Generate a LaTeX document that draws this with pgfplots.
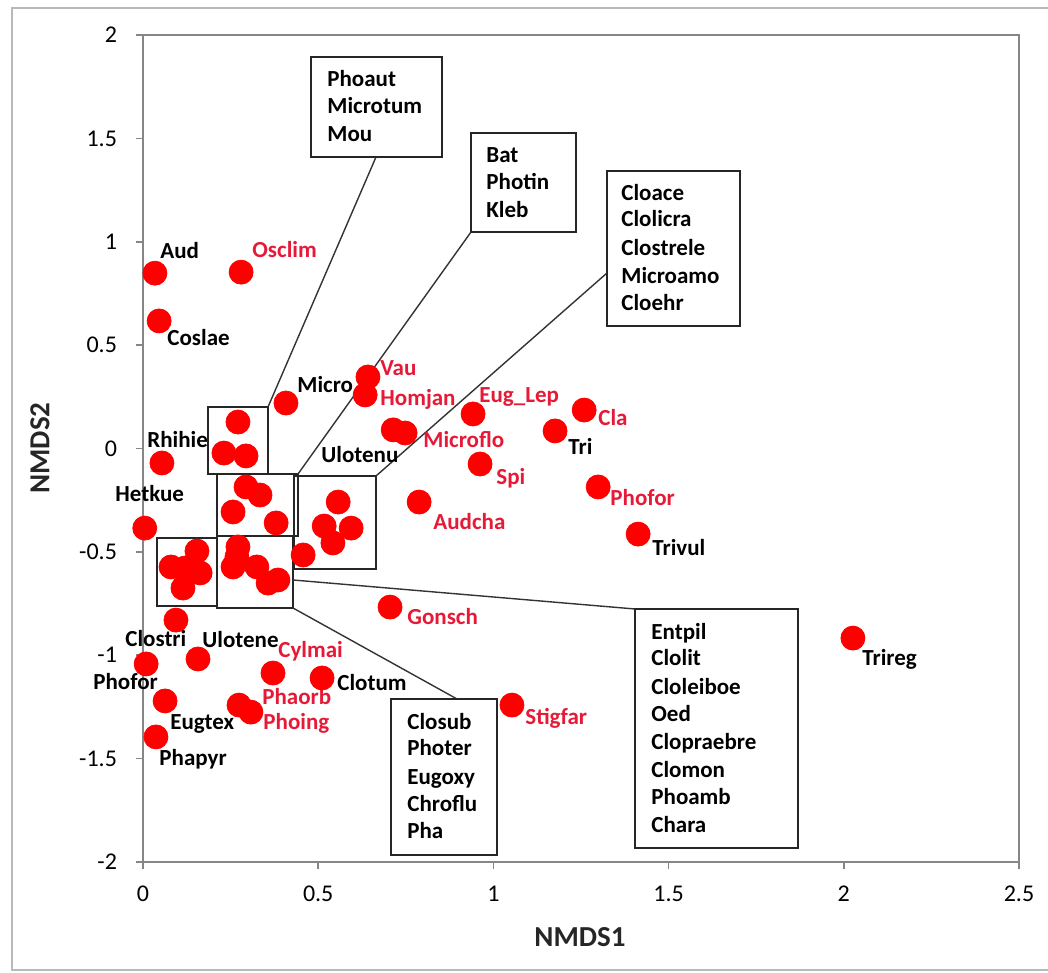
\documentclass[border=0pt]{standalone}
\usepackage{fontspec}
\setmainfont{Carlito}
\usepackage{pgfplots}
\pgfplotsset{compat=1.18}
\definecolor{lbred}{RGB}{230,25,55}
\definecolor{dotred}{RGB}{255,0,0}
\definecolor{axgray}{RGB}{134,134,134}
\tikzset{
  lbl/.style={font=\fontsize{11.5}{13.8}\selectfont\bfseries, inner sep=0pt, text height=7.6pt, text depth=0pt, anchor=west},
  rl/.style={lbl, text=lbred},
  bx/.style={draw=black!85, line width=0.9pt},
  ld/.style={draw=black!80, line width=0.7pt},
}
\begin{document}
\begin{tikzpicture}
\path[use as bounding box] (-71.5pt,-55.5pt) rectangle (452.5pt,431pt);
\draw[gray!55, line width=0.9pt] (453pt,427pt) -- (-65.5pt,427pt) -- (-65.5pt,-54pt) -- (453pt,-54pt);
\begin{axis}[
  at={(0pt,0pt)}, anchor=south west,
  scale only axis, width=438pt, height=413.5pt,
  xmin=0, xmax=2.5, ymin=-2, ymax=2,
  xtick={0,0.5,1,1.5,2,2.5},
  ytick={-2,-1.5,-1,-0.5,0,0.5,1,1.5,2},
  xticklabels={0,0.5,1,1.5,2,2.5},
  yticklabels={-2,-1.5,-1,-0.5,0,0.5,1,1.5,2},
  tick align=outside, tick pos=left,
  major tick length=3.5pt,
  tick style={axgray, line width=0.8pt},
  axis line style={axgray, line width=1pt},
  ticklabel style={font=\fontsize{12}{14}\selectfont},
  /pgf/number format/assume math mode=true,
  xticklabel style={yshift=-5pt},
  yticklabel style={xshift=-6pt},
  clip=false,
]
% group boxes
\draw[bx] (axis cs:0.1855,0.2007) rectangle (axis cs:0.3567,-0.1233);
\draw[bx] (axis cs:0.2112,-0.1233) rectangle (axis cs:0.4424,-0.4232);
\draw[bx] (axis cs:0.4309,-0.1330) rectangle (axis cs:0.6650,-0.5828);
\draw[bx] (axis cs:0.2112,-0.4232) rectangle (axis cs:0.4281,-0.7715);
\draw[bx] (axis cs:0.0400,-0.4329) rectangle (axis cs:0.2112,-0.7618);

\addplot[only marks, mark=*, mark size=6pt, color=dotred, mark options={draw=none, fill=dotred}] coordinates {
(0.034,0.848) (0.280,0.853) (0.046,0.617) (0.408,0.220) (0.642,0.346) (0.634,0.259)
(0.714,0.090) (0.748,0.075) (0.942,0.167) (1.259,0.186) (1.176,0.085) (0.962,-0.075)
(1.299,-0.186) (0.788,-0.259) (1.413,-0.414) (0.705,-0.767) (2.026,-0.917) (1.053,-1.241)
(0.511,-1.110) (0.371,-1.086) (0.274,-1.241) (0.308,-1.275) (0.157,-1.018) (0.009,-1.042)
(0.063,-1.221) (0.037,-1.395) (0.094,-0.830) (0.005,-0.385) (0.054,-0.070)
(0.271,0.128) (0.231,-0.022) (0.294,-0.036)
(0.294,-0.186) (0.334,-0.225) (0.257,-0.307) (0.380,-0.360)
(0.557,-0.259) (0.517,-0.375) (0.594,-0.385) (0.542,-0.457) (0.457,-0.515)
(0.271,-0.476) (0.268,-0.525) (0.257,-0.573) (0.325,-0.573) (0.357,-0.651) (0.385,-0.636)
(0.154,-0.496) (0.080,-0.573) (0.120,-0.578) (0.163,-0.602) (0.114,-0.675)
};

% leader lines
\draw[ld] (axis cs:0.6650,1.4099) -- (axis cs:0.3567,0.2007);
\draw[ld] (axis cs:0.9361,1.0472) -- (axis cs:0.4424,-0.1233);
\draw[ld] (axis cs:1.3242,0.8489) -- (axis cs:0.6650,-0.1330);
\draw[ld] (axis cs:0.8961,-1.2116) -- (axis cs:0.4281,-0.7715);
\draw[ld] (axis cs:1.4041,-0.7763) -- (axis cs:0.4281,-0.6360);

% list boxes
\draw[bx, fill=white] (axis cs:0.4795,1.8936) rectangle (axis cs:0.8533,1.4099);
\draw[bx, fill=white] (axis cs:0.9361,1.5260) rectangle (axis cs:1.2357,1.0472);
\draw[bx, fill=white] (axis cs:1.3242,1.3422) rectangle (axis cs:1.7038,0.5925);
\draw[bx, fill=white] (axis cs:0.7078,-1.2116) rectangle (axis cs:1.0103,-1.9661);
\draw[bx, fill=white] (axis cs:1.4041,-0.7763) rectangle (axis cs:1.8693,-1.9323);

\node[lbl] at (axis cs:0.5251,1.7872) {Phoaut};
\node[lbl] at (axis cs:0.5251,1.6566) {Microtum};
\node[lbl] at (axis cs:0.5251,1.5211) {Mou};
\node[lbl] at (axis cs:0.9789,1.4196) {Bat};
\node[lbl] at (axis cs:0.9789,1.2890) {Photin};
\node[lbl] at (axis cs:0.9789,1.1536) {Kleb};
\node[lbl] at (axis cs:1.3642,1.2358) {Cloace};
\node[lbl] at (axis cs:1.3642,1.1100) {Clolicra};
\node[lbl] at (axis cs:1.3642,0.9698) {Clostrele};
\node[lbl] at (axis cs:1.3642,0.8343) {Microamo};
\node[lbl] at (axis cs:1.3642,0.7037) {Cloehr};
\node[lbl] at (axis cs:0.7534,-1.3229) {Closub};
\node[lbl] at (axis cs:0.7534,-1.4486) {Photer};
\node[lbl] at (axis cs:0.7534,-1.5889) {Eugoxy};
\node[lbl] at (axis cs:0.7534,-1.7195) {Chroflu};
\node[lbl] at (axis cs:0.7534,-1.8501) {Pha};
\node[lbl] at (axis cs:1.4498,-0.8875) {Entpil};
\node[lbl] at (axis cs:1.4498,-1.0133) {Clolit};
\node[lbl] at (axis cs:1.4498,-1.1536) {Cloleiboe};
\node[lbl] at (axis cs:1.4498,-1.2842) {Oed};
\node[lbl] at (axis cs:1.4498,-1.4196) {Clopraebre};
\node[lbl] at (axis cs:1.4498,-1.5550) {Clomon};
\node[lbl] at (axis cs:1.4498,-1.6856) {Phoamb};
\node[lbl] at (axis cs:1.4498,-1.8211) {Chara};

% point labels
\node[lbl] at (axis cs:0.0485,0.9553) {Aud};
\node[rl]  at (axis cs:0.3111,0.9601) {Osclim};
\node[lbl] at (axis cs:0.0685,0.5345) {Coslae};
\node[lbl] at (axis cs:0.4395,0.3071) {Micro};
\node[rl]  at (axis cs:0.6764,0.3893) {Vau};
\node[rl]  at (axis cs:0.6764,0.2443) {Homjan};
\node[rl]  at (axis cs:0.9589,0.2588) {Eug\_Lep};
\node[rl]  at (axis cs:1.2985,0.1475) {Cla};
\node[rl]  at (axis cs:0.7991,0.0411) {Microflo};
\node[lbl] at (axis cs:1.2129,0.0073) {Tri};
\node[rl]  at (axis cs:1.0074,-0.1378) {Spi};
\node[lbl] at (axis cs:0.5080,-0.0314) {Ulotenu};
\node[rl]  at (axis cs:1.3328,-0.2394) {Phofor};
\node[rl]  at (axis cs:0.8276,-0.3555) {Audcha};
\node[lbl] at (axis cs:1.4526,-0.4813) {Trivul};
\node[rl]  at (axis cs:0.7534,-0.8150) {Gonsch};
\node[lbl] at (axis cs:2.0519,-1.0133) {Trireg};
\node[rl]  at (axis cs:1.0902,-1.2987) {Stigfar};
\node[lbl] at (axis cs:0.0114,0.0411) {Rhihie};
\node[lbl] at (axis cs:-0.0799,-0.2201) {Hetkue};
\node[lbl] at (axis cs:-0.0514,-0.9214) {Clostri};
\node[lbl] at (axis cs:0.1684,-0.9262) {Ulotene};
\node[rl]  at (axis cs:0.3853,-0.9746) {Cylmai};
\node[lbl] at (axis cs:-0.1427,-1.1294) {Phofor};
\node[lbl] at (axis cs:0.5537,-1.1342) {Clotum};
\node[rl]  at (axis cs:0.3396,-1.2019) {Phaorb};
\node[rl]  at (axis cs:0.3425,-1.3229) {Phoing};
\node[lbl] at (axis cs:0.0771,-1.3229) {Eugtex};
\node[lbl] at (axis cs:0.0457,-1.4970) {Phapyr};
\end{axis}
\node[font=\fontsize{14.5}{17}\selectfont\bfseries, text=black!85] at (218.5pt,-37.5pt) {NMDS1};
\node[font=\fontsize{14.5}{17}\selectfont\bfseries, text=black!85, rotate=90] at (-51.5pt,207pt) {NMDS2};
\end{tikzpicture}
\end{document}
